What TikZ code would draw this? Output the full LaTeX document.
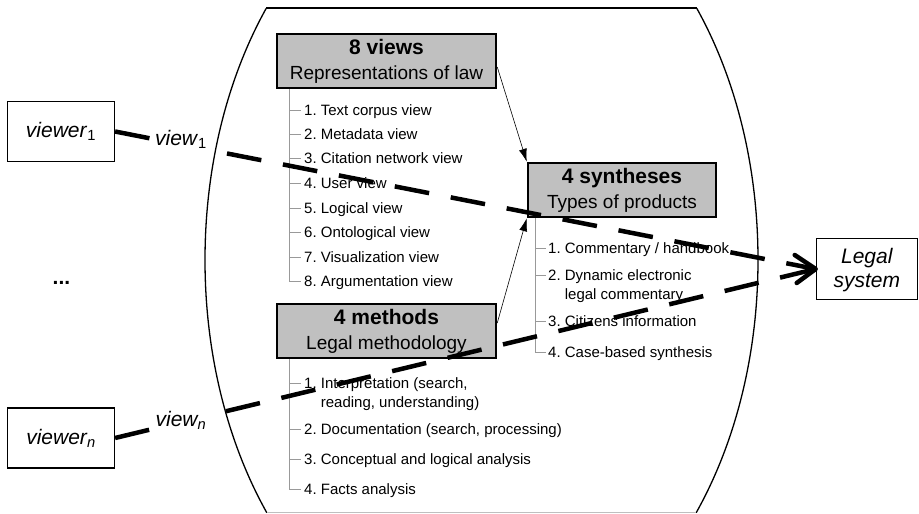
\documentclass[tikz,border=0pt]{standalone}
\usepackage{fontspec}
\setmainfont{Liberation Sans}
\usetikzlibrary{arrows.meta}
\definecolor{graybox}{HTML}{C0C0C0}
\definecolor{treegray}{HTML}{999999}
\frenchspacing
\begin{document}
\begin{tikzpicture}[x=1pt,y=-1pt,
  gbox/.style={draw=black, line width=2.5pt, fill=graybox, minimum width=219pt, minimum height=54pt, align=center, inner sep=0pt, font=\fontsize{19}{25}\selectfont},
  wbox/.style={draw=black, line width=1.2pt, fill=white, align=center, inner sep=0pt, font=\fontsize{21}{24}\selectfont\itshape},
  itm/.style={anchor=north west, inner sep=0pt, align=left, font=\fontsize{15}{18.5}\selectfont, yshift=7.55pt},
  tree/.style={draw=treegray, line width=1pt},
  thinarrow/.style={line width=0.6pt, -{Latex[length=13pt,width=8pt]}},
  dline/.style={line width=4.5pt, dash pattern=on 35pt off 22pt},
  arm/.style={line width=4.5pt, line cap=round, line join=round},
  lab/.style={fill=white, inner xsep=2pt, inner ysep=4pt, font=\fontsize{21}{24}\selectfont}
]
\useasboundingbox (0,0) rectangle (919,514);

% outer shape
\begin{scope}
  \clip (0,8) rectangle (919,512.5);
  \draw[line width=1.3pt] (481.5,260) ellipse [x radius=276.5pt, y radius=401pt];
\end{scope}
\draw[line width=1.3pt] (266.4,8) -- (696.6,8);
\draw[line width=0.8pt, draw=black!25] (266.7,512.5) -- (696.3,512.5);

% gray boxes
\node[gbox] (views) at (386.5,61) {{\fontsize{21}{25}\selectfont\bfseries 8 views}\\Representations of law};
\node[gbox, minimum width=188pt] (synth) at (622,190) {{\fontsize{21}{25}\selectfont\bfseries 4 syntheses}\\Types of products};
\node[gbox] (methods) at (386.5,331) {{\fontsize{21}{25}\selectfont\bfseries 4 methods}\\Legal methodology};

% views list
\foreach \n/\t/\y in {1/Text corpus view/110, 2/Metadata view/134, 3/Citation network view/158, 4/User view/183, 5/Logical view/208, 6/Ontological view/232, 7/Visualization view/257, 8/Argumentation view/281} {
  \node[itm] (vi\n) at (304,\y) {\strut\n. \t};
}
\foreach \n in {1,...,7} {
  \draw[tree] ([shift={(-14pt,-7.55pt)}]vi\n.north west) -- ([shift={(-3pt,-7.55pt)}]vi\n.north west);
}
\draw[tree] ([xshift=14pt]views.south west) |- ([shift={(-3pt,-7.55pt)}]vi8.north west);

% syntheses list
\node[itm] (si1) at (548,248) {\strut 1. Commentary / handbook};
\node[itm] (si2) at (548,275) {\strut 2. Dynamic electronic\\\phantom{2. }legal commentary};
\node[itm] (si3) at (548,321) {\strut 3. Citizens information};
\node[itm] (si4) at (548,352) {\strut 4. Case-based synthesis};
\foreach \n in {1,2,3} {
  \draw[tree] ([shift={(-12pt,-7.55pt)}]si\n.north west) -- ([shift={(-2pt,-7.55pt)}]si\n.north west);
}
\draw[tree] ([xshift=9pt]synth.south west) |- ([shift={(-2pt,-7.55pt)}]si4.north west);

% methods list
\node[itm] (mi1) at (304,383) {\strut 1. Interpretation (search,\\\phantom{1. }reading, understanding)};
\node[itm] (mi2) at (304,429) {\strut 2. Documentation (search, processing)};
\node[itm] (mi3) at (304,459) {\strut 3. Conceptual and logical analysis};
\node[itm] (mi4) at (304,489) {\strut 4. Facts analysis};
\foreach \n in {1,2,3} {
  \draw[tree] ([shift={(-14pt,-7.55pt)}]mi\n.north west) -- ([shift={(-3pt,-7.55pt)}]mi\n.north west);
}
\draw[tree] ([xshift=14pt]methods.south west) |- ([shift={(-3pt,-7.55pt)}]mi4.north west);

% thin arrows
\draw[thinarrow] ([yshift=-6pt]views.east) -- (synth.north west);
\draw[thinarrow] ([yshift=8pt]methods.east) -- (synth.south west);

% viewers and legal system
\node[wbox, minimum width=107pt, minimum height=60pt] (v1) at (61,131.5) {viewer\textup{\textsubscript{1}}};
\node[wbox, minimum width=107pt, minimum height=60pt] (vn) at (61,438) {viewer\textsubscript{n}};
\node[wbox, minimum width=101pt, minimum height=61pt] (legal) at (866.8,269) {\rule{0pt}{18pt}Legal\\system};
\node[font=\fontsize{21}{24}\selectfont\bfseries, anchor=base, inner sep=0pt] (dots) at (61.5,284.5) {...};

% dashed connectors
\draw[dline] (v1.east) -- (legal.west);
\draw[dline] (vn.east) -- (legal.west);
\node[lab] (l1) at (181,139) {\textit{view}\textsubscript{1}};
\node[lab] (ln) at (181,420) {\textit{view\textsubscript{n}}};
\draw[arm] (legal.west) ++(-21,-14) -- (legal.west) -- ++(-19,14);
\end{tikzpicture}
\end{document}
